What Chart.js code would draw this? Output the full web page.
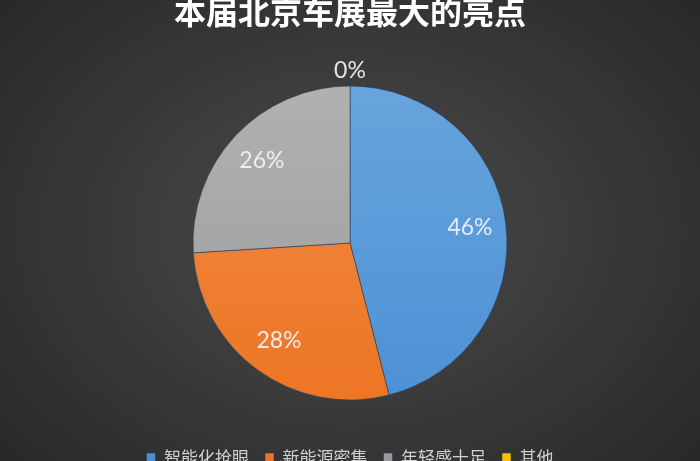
<!DOCTYPE html>
<html>
<head>
<meta charset="utf-8">
<script src="https://cdn.jsdelivr.net/npm/chart.js@4"></script>
<style>
  html, body { margin: 0; padding: 0; overflow: hidden; }
  body {
    width: 700px; height: 461px;
    background: radial-gradient(ellipse 75% 85% at 50% 50%, #4a4a4a 0%, #3a3a3a 45%, #242424 100%);
  }
  #wrap { width: 700px; height: 476px; position: relative; }
</style>
</head>
<body>
<div id="wrap"><canvas id="pie"></canvas></div>
<script>
const titleText = '本届北京车展最大的亮点';
const categories = ['智能化抢眼', '新能源密集', '年轻感十足', '其他'];
const shares = [46, 28, 26, 0];
const sliceColors = [
  ['#6aa6de', '#4a8fd4'],
  ['#f28c4c', '#ec7420'],
  ['#b3b3b3', '#9a9a9a'],
  ['#ffc000', '#ffc000']
];

// vertical gradient per slice, Excel style
function sliceFill(context) {
  const chart = context.chart;
  const area = chart.chartArea;
  const pair = sliceColors[context.dataIndex];
  if (!area) return pair[0];
  const g = chart.ctx.createLinearGradient(0, area.top, 0, area.bottom);
  g.addColorStop(0, pair[0]);
  g.addColorStop(1, pair[1]);
  return g;
}

// percentage labels inside slices, zero ones sit just outside
const pctLabels = {
  id: 'pctLabels',
  afterDatasetsDraw(chart) {
    const ctx = chart.ctx;
    const meta = chart.getDatasetMeta(0);
    ctx.save();
    ctx.font = '23px Lato, "Open Sans", sans-serif';
    ctx.fillStyle = 'rgba(240,244,250,0.92)';
    ctx.textAlign = 'center';
    ctx.textBaseline = 'middle';
    meta.data.forEach((arc, i) => {
      const p = arc.getProps(['x', 'y', 'startAngle', 'endAngle', 'outerRadius'], true);
      const mid = (p.startAngle + p.endAngle) / 2;
      const dist = shares[i] === 0 ? p.outerRadius + 15 : p.outerRadius * 0.77;
      ctx.fillText(shares[i] + '%', p.x + Math.cos(mid) * dist, p.y + Math.sin(mid) * dist);
    });
    ctx.restore();
  }
};

new Chart(document.getElementById('pie'), {
  type: 'pie',
  data: {
    labels: categories,
    datasets: [{
      data: shares,
      backgroundColor: sliceFill,
      borderColor: 'rgba(40,60,90,0.6)',
      borderWidth: 1,
      radius: 157
    }]
  },
  options: {
    responsive: true,
    maintainAspectRatio: false,
    animation: false,
    layout: { padding: 0 },
    plugins: {
      title: {
        display: true,
        text: titleText,
        color: '#ffffff',
        font: { size: 32, weight: 'bold', lineHeight: 0.75, family: '"Noto Sans CJK SC", sans-serif' },
        padding: { top: 0, bottom: 29 }
      },
      legend: {
        position: 'bottom',
        labels: {
          color: '#d0d0d0',
          boxWidth: 9,
          boxHeight: 9,
          padding: 16,
          font: { size: 17, family: '"Noto Sans CJK SC", sans-serif' }
        }
      },
      tooltip: { enabled: false }
    }
  },
  plugins: [pctLabels]
});
</script>
</body>
</html>
